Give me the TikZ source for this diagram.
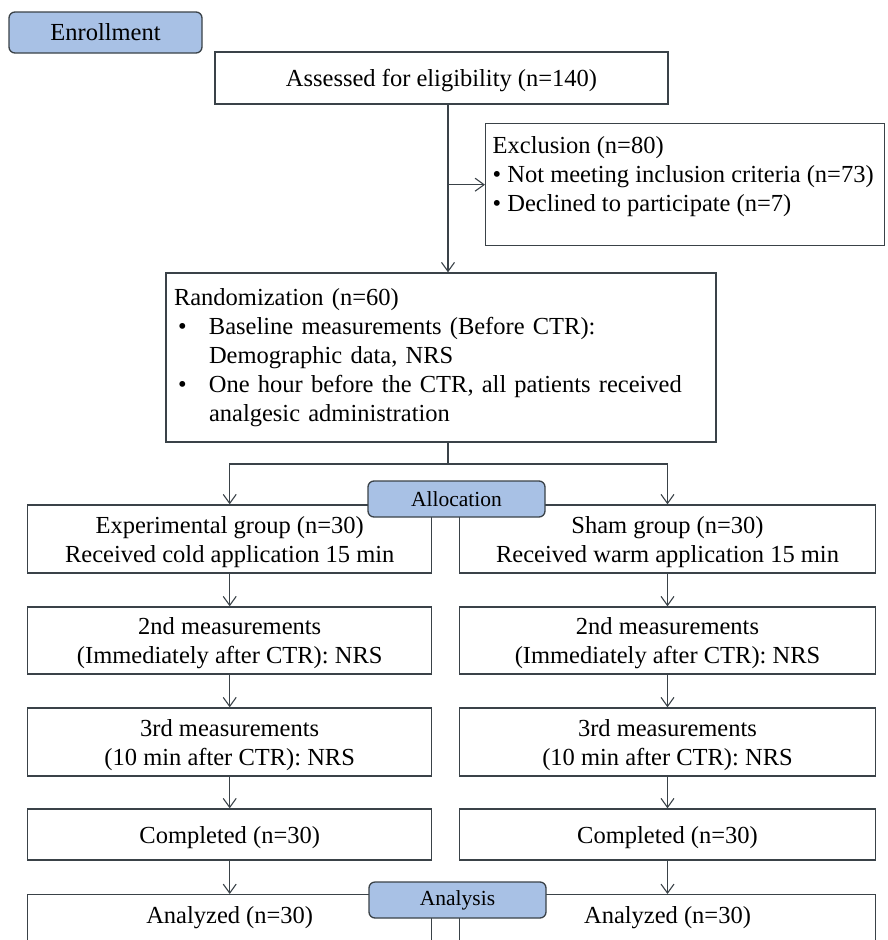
\documentclass[tikz,border=0pt]{standalone}
\usepackage{fontspec}
\setmainfont{Liberation Serif}
\usepackage{xcolor}
\definecolor{colFrame}{RGB}{58,66,72}
\definecolor{colStage}{RGB}{168,193,229}
\usetikzlibrary{arrows.meta}

\begin{document}
\begin{tikzpicture}[
		x=1pt, y=-1pt,
		every node/.style={font=\fontsize{24.5}{29}\selectfont},
		flowbox/.style={draw=colFrame, line width=1.4pt, fill=white, inner sep=0pt, align=center},
		midbox/.style={flowbox, text depth=0pt},
		stagebox/.style={draw=colFrame, line width=1.3pt, fill=colStage, rounded corners=6pt,
		                 inner sep=0pt, font=\fontsize{21.5}{26}\selectfont},
		flowarrow/.style={-{Straight Barb[length=9pt,width=13pt]}, draw=colFrame, line width=1.1pt}
	]
	\useasboundingbox (0,0) rectangle (888,940);
	\node[midbox, minimum width=453pt, minimum height=52pt]
	     (assess) at (441.5,78) {Assessed for eligibility (n=140)};
	\node[flowbox, anchor=north west, inner xsep=7pt, inner ysep=13pt, align=left]
	     (excl) at (485,123) {\parbox[c][96pt][t]{385pt}{Exclusion (n=80)\\
	     \textbullet{} Not meeting inclusion criteria (n=73)\\
	     \textbullet{} Declined to participate (n=7)}};
	\node[flowbox, minimum height=169pt, text width=534pt, inner xsep=8pt, align=left]
	     (rand) at (441,357.5) {Randomization (n=60)\\
	     \hspace*{4pt}\makebox[31pt][l]{\textbullet}Baseline measurements (Before CTR):\\
	     \hspace*{35pt}Demographic data, NRS\\
	     \hspace*{4pt}\makebox[31pt][l]{\textbullet}One hour before the CTR, all patients received\\
	     \hspace*{35pt}analgesic administration};
	\node[midbox, minimum width=404pt, minimum height=68pt]
	     (expgrp) at (229.7,539) {Experimental group (n=30)\\Received cold application 15 min};
	\node[midbox, minimum width=416pt, minimum height=68pt]
	     (shamgrp) at (667.5,539) {Sham group (n=30)\\Received warm application 15 min};
	\node[midbox, minimum width=404pt, minimum height=67pt]
	     (expsecond) at (229.7,640.5) {2nd measurements\\(Immediately after CTR): NRS};
	\node[midbox, minimum width=416pt, minimum height=67pt]
	     (shamsecond) at (667.5,640.5) {2nd measurements\\(Immediately after CTR): NRS};
	\node[midbox, minimum width=404pt, minimum height=68pt]
	     (expthird) at (229.7,742) {3rd measurements\\(10 min after CTR): NRS};
	\node[midbox, minimum width=416pt, minimum height=68pt]
	     (shamthird) at (667.5,742) {3rd measurements\\(10 min after CTR): NRS};
	\node[midbox, minimum width=404pt, minimum height=51pt]
	     (expdone) at (229.7,834.5) {Completed (n=30)};
	\node[midbox, minimum width=416pt, minimum height=51pt]
	     (shamdone) at (667.5,834.5) {Completed (n=30)};
	\node[flowbox, anchor=north, inner ysep=12pt]
	     (expanal) at (229.7,894) {\parbox[c][50pt][t]{404pt}{\centering Analyzed (n=30)}};
	\node[flowbox, anchor=north, inner ysep=12pt]
	     (shamanal) at (667.5,894) {\parbox[c][50pt][t]{416pt}{\centering Analyzed (n=30)}};
	\coordinate (spine) at (448,0);
	\coordinate (fork) at (448,464);
	\draw[flowarrow] (assess.south -| spine) -- (rand.north -| spine);
	\draw[flowarrow] (spine |- excl.west) -- (excl.west);
	\draw[draw=colFrame, line width=1.1pt] (rand.south -| spine) -- (fork);
	\draw[flowarrow] (fork) -| (expgrp.north);
	\draw[flowarrow] (fork) -| (shamgrp.north);
	\draw[flowarrow] (expgrp) -- (expsecond);
	\draw[flowarrow] (shamgrp) -- (shamsecond);
	\draw[flowarrow] (expsecond) -- (expthird);
	\draw[flowarrow] (shamsecond) -- (shamthird);
	\draw[flowarrow] (expthird) -- (expdone);
	\draw[flowarrow] (shamthird) -- (shamdone);
	\draw[flowarrow] (expdone) -- (expanal);
	\draw[flowarrow] (shamdone) -- (shamanal);
	\node[stagebox, minimum width=193pt, minimum height=41pt, font=\fontsize{24.5}{29}\selectfont]
	     (enroll) at (105.5,32.5) {Enrollment};
	\node[stagebox, minimum width=177pt, minimum height=36pt]
	     (alloc) at (456.5,499) {Allocation};
	\node[stagebox, minimum width=177pt, minimum height=36pt]
	     (analysis) at (457.5,900) {Analysis};
\end{tikzpicture}
\end{document}
